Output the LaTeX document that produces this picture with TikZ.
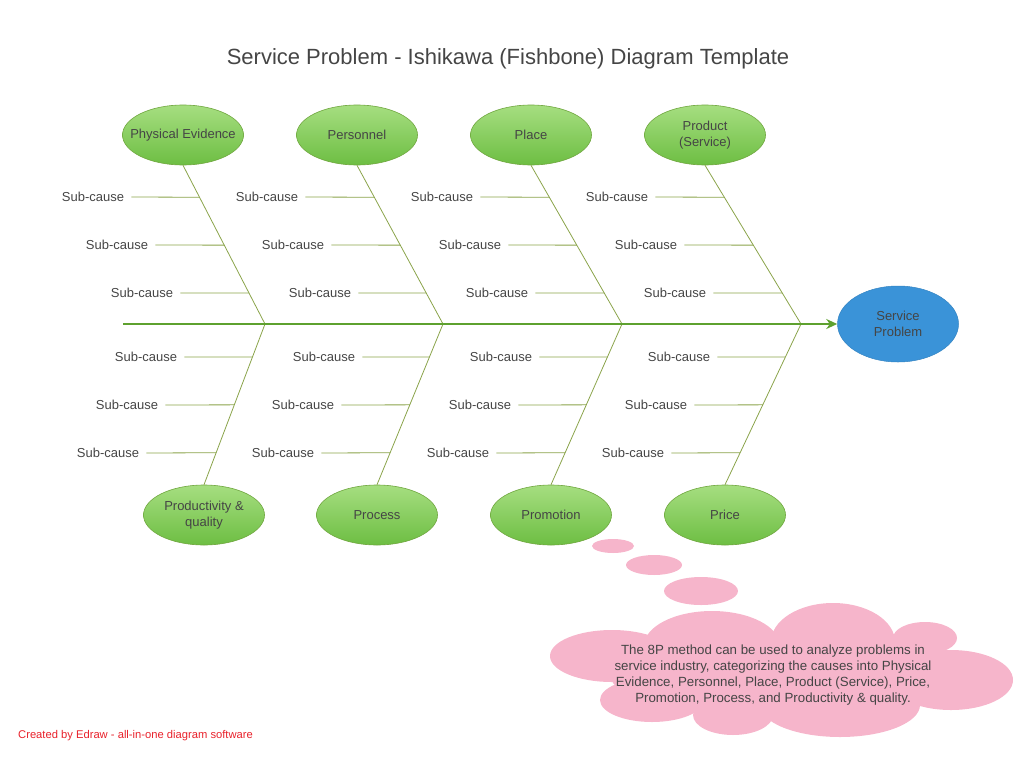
\documentclass[tikz,border=0pt]{standalone}
\usepackage{fontspec}
\setmainfont{Liberation Sans}
\usetikzlibrary{shapes.geometric,arrows.meta,calc}
\definecolor{txt}{HTML}{454545}
\definecolor{bonec}{HTML}{8AA34A}
\definecolor{spinec}{HTML}{5EA12F}
\definecolor{gtop}{HTML}{A6DE80}
\definecolor{gbot}{HTML}{6DBE43}
\definecolor{gline}{HTML}{6FA63E}
\definecolor{blu}{HTML}{3A93D8}
\definecolor{pinkc}{HTML}{F6B5CB}
\definecolor{redc}{HTML}{E8202A}
\tikzset{
  cat/.style={ellipse, draw=gline, line width=0.6pt, top color=gtop, bottom color=gbot, minimum width=121pt, minimum height=60pt, inner sep=0pt, align=center, text=txt, font=\fontsize{13}{16}\selectfont},
  sub/.style={inner sep=0pt, text=txt, font=\fontsize{13}{16}\selectfont},
  bone/.style={draw=bonec, line width=0.8pt},
  puff/.style={fill=pinkc, draw=none},
}
\begin{document}
\begin{tikzpicture}[x=1pt,y=-1pt]
\useasboundingbox (0,0) rectangle (1024,768);
% title
\node[text=txt, font=\fontsize{22}{26}\selectfont] (title) at (508,59) {Service Problem - Ishikawa (Fishbone) Diagram Template};
% top categories
\node[cat, inner xsep=-15pt] (T1) at (183,135) {Physical Evidence};
\node[cat] (T2) at (357,135) {Personnel};
\node[cat] (T3) at (531,135) {Place};
\node[cat] (T4) at (705,135) {Product\\(Service)};
% bottom categories
\node[cat] (B1) at (204,515) {Productivity \&\\quality};
\node[cat] (B2) at (377,515) {Process};
\node[cat] (B3) at (551,515) {Promotion};
\node[cat] (B4) at (725,515) {Price};
% effect
\node[ellipse, fill=blu, draw=blu!90!black, line width=0.5pt, minimum width=121pt, minimum height=76pt, inner sep=0pt, align=center, text=txt, font=\fontsize{13}{16}\selectfont] (SP) at (898,324) {Service\\Problem};
% joints
\coordinate (S0) at (123,324);
\coordinate (J1) at (265,324);
\coordinate (J2) at (443,324);
\coordinate (J3) at (622,324);
\coordinate (J4) at (801,324);
% bones
\foreach \k in {1,2,3,4}{
  \draw[bone] (T\k.south) -- (J\k);
  \draw[bone] (J\k) -- (B\k.north);
}
% spine
\draw[spinec, line width=2.6pt, -{Stealth[length=11pt,width=10pt]}] (S0) -- (SP.west);
% top sub-causes
\foreach \k/\a/\b/\c in {1/93/117/142, 2/267/293/320, 3/442/470/497, 4/617/646/675}{
  \node[sub] (s\k a) at (\a,197) {Sub-cause};
  \node[sub] (s\k b) at (\b,245) {Sub-cause};
  \node[sub] (s\k c) at (\c,293) {Sub-cause};
  \draw[bone] ([xshift=7pt]s\k a.east) -- ($(T\k.south)!0.2013!(J\k)$);
  \draw[bone] ([xshift=7pt]s\k b.east) -- ($(T\k.south)!0.5031!(J\k)$);
  \draw[bone] ([xshift=7pt]s\k c.east) -- ($(T\k.south)!0.8050!(J\k)$);
}
% bottom sub-causes
\foreach \k/\a/\b/\c in {1/146/127/108, 2/324/303/283, 3/501/480/458, 4/679/656/633}{
  \node[sub] (u\k a) at (\a,357) {Sub-cause};
  \node[sub] (u\k b) at (\b,405) {Sub-cause};
  \node[sub] (u\k c) at (\c,453) {Sub-cause};
  \draw[bone] ([xshift=7pt]u\k a.east) -- ($(J\k)!0.205!(B\k.north)$);
  \draw[bone] ([xshift=7pt]u\k b.east) -- ($(J\k)!0.503!(B\k.north)$);
  \draw[bone] ([xshift=7pt]u\k c.east) -- ($(J\k)!0.801!(B\k.north)$);
}
% thought bubbles
\fill[puff] (613,546) ellipse [x radius=21, y radius=7];
\fill[puff] (654,565) ellipse [x radius=28, y radius=10];
\fill[puff] (701,591) ellipse [x radius=37, y radius=14];
% cloud
\fill[puff] (612,656) ellipse [x radius=62, y radius=26];
\fill[puff] (712,646) ellipse [x radius=68, y radius=35];
\fill[puff] (833,642) ellipse [x radius=62, y radius=39];
\fill[puff] (925,638) ellipse [x radius=32, y radius=16];
\fill[puff] (951,680) ellipse [x radius=62, y radius=30];
\fill[puff] (840,705) ellipse [x radius=80, y radius=32];
\fill[puff] (652,700) ellipse [x radius=52, y radius=22];
\fill[puff] (733,715) ellipse [x radius=40, y radius=20];
\fill[puff] (780,675) ellipse [x radius=170, y radius=42];
\node[text=txt, align=center, inner sep=0pt, font=\fontsize{13.3}{16}\selectfont] (note) at (773,675) {The 8P method can be used to analyze problems in\\service industry, categorizing the causes into Physical\\Evidence, Personnel, Place, Product (Service), Price,\\Promotion, Process, and Productivity \& quality.};
% footer
\node[anchor=west, inner sep=0pt, text=redc, font=\fontsize{11.2}{13}\selectfont] (foot) at (18,736) {Created by Edraw - all-in-one diagram software};
\end{tikzpicture}
\end{document}
